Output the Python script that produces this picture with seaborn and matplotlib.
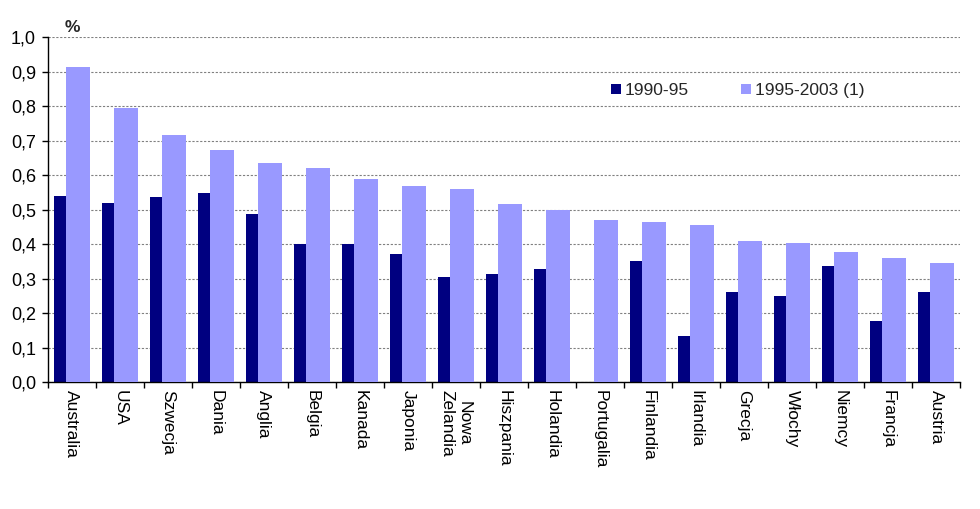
import numpy as np
import pandas as pd
import matplotlib
matplotlib.use("Agg")
import matplotlib.pyplot as plt
import seaborn as sns
from matplotlib.patches import Patch
from matplotlib.ticker import FuncFormatter, FixedLocator

categories = ["Australia", "USA", "Szwecja", "Dania", "Anglia", "Belgia", "Kanada",
              "Japonia", "Nowa\nZelandia", "Hiszpania", "Holandia", "Portugalia",
              "Finlandia", "Irlandia", "Grecja", "Włochy", "Niemcy", "Francja", "Austria"]
s1990 = [0.538, 0.520, 0.535, 0.547, 0.486, 0.401, 0.401, 0.372, 0.305, 0.314, 0.328,
         np.nan, 0.352, 0.134, 0.262, 0.250, 0.337, 0.177, 0.262]
s1995 = [0.913, 0.794, 0.715, 0.672, 0.634, 0.620, 0.587, 0.567, 0.558, 0.517, 0.500,
         0.471, 0.465, 0.456, 0.410, 0.404, 0.378, 0.360, 0.346]
series_names = ["1990-95", "1995-2003 (1)"]
colors = ["#000080", "#9999FF"]

df = pd.DataFrame({
    "kraj": categories * 2,
    "wartosc": s1990 + s1995,
    "okres": [series_names[0]] * len(categories) + [series_names[1]] * len(categories),
})

sns.set_theme(style="white")
plt.rcParams["font.family"] = ["Liberation Sans", "DejaVu Sans"]

fig = plt.figure(figsize=(9.8, 5.09), dpi=100)
ax = fig.add_axes([0.0487, 0.2495, 0.9309, 0.6778])

sns.barplot(data=df, x="kraj", y="wartosc", hue="okres", hue_order=series_names,
            order=categories, palette=colors, width=0.75, dodge=True,
            saturation=1, errorbar=None, legend=False, ax=ax)

# Excel-style overlap: dark bar partly behind the light bar
for i, cont in enumerate(ax.containers):
    for p in cont.patches:
        if i == 0:
            p.set_width(0.5)
            p.set_zorder(2)
        else:
            p.set_x(p.get_x() - 0.125)
            p.set_width(0.5)
            p.set_zorder(3)
        p.set_linewidth(0)

ax.set_xlim(-0.5, len(categories) - 0.5)
ax.set_ylim(0, 1.0)
ax.set_yticks(np.arange(0, 1.01, 0.1))
ax.yaxis.set_major_formatter(FuncFormatter(lambda v, _: f"{v:.1f}".replace(".", ",")))
ax.set_xlabel("")
ax.set_ylabel("")

ax.yaxis.grid(True, color="#808080", linestyle=(0, (2, 1.5)), linewidth=0.8)
ax.set_axisbelow(True)
for sp in ["top", "right"]:
    ax.spines[sp].set_visible(False)
for sp in ["left", "bottom"]:
    ax.spines[sp].set_color("black")
    ax.spines[sp].set_linewidth(1.0)

ax.tick_params(axis="y", which="major", left=True, length=4.5, width=1, color="black",
               labelsize=13, pad=4, labelcolor="black")
ax.tick_params(axis="x", which="major", bottom=False, length=0, labelsize=12.5, pad=6,
               labelcolor="black")
ax.xaxis.set_minor_locator(FixedLocator(np.arange(-0.5, len(categories), 1.0)))
ax.tick_params(axis="x", which="minor", bottom=True, length=4.5, width=1, color="black")
for lab in ax.get_xticklabels():
    lab.set_rotation(270)
    lab.set_va("top")
    lab.set_ha("center")
    lab.set_multialignment("center")

fig.text(0.066, 1 - 28 / 509, "%", fontsize=12.5, fontweight="bold", ha="left", va="center")

handles = [Patch(facecolor=c, edgecolor="none") for c in colors]
fig.legend(handles, series_names, loc="center left", bbox_to_anchor=(611 / 980, 1 - 90.5 / 509),
           ncol=2, frameon=False, fontsize=12.5, handlelength=0.55, handleheight=0.55,
           handletextpad=0.25, columnspacing=3.0, borderaxespad=0, borderpad=0)

fig.savefig("out.png", dpi=100)
